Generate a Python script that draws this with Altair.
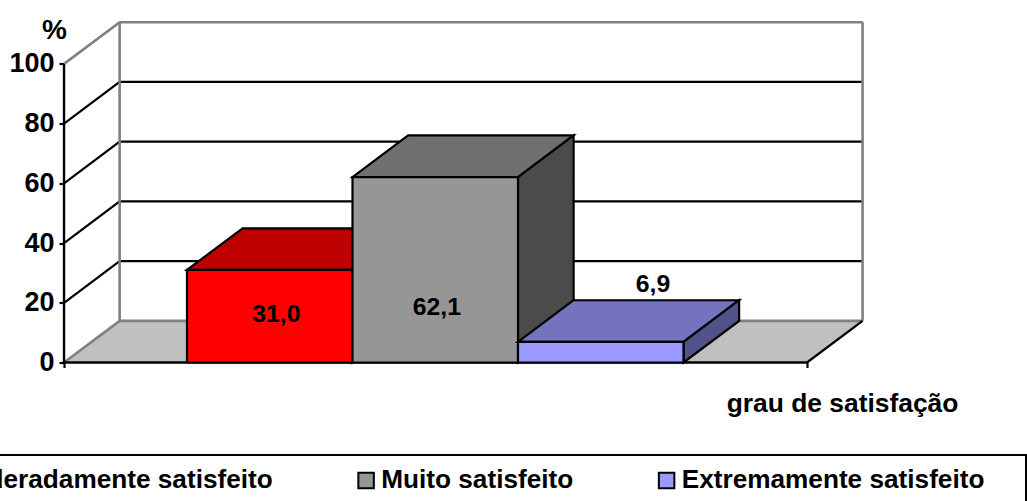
import altair as alt
import pandas as pd

# Survey results: share of respondents per satisfaction level
categories = ["Moderadamente satisfeito", "Muito satisfeito", "Extremamente satisfeito"]
percentages = [31.0, 62.1, 6.9]
y_ticks = [0, 20, 40, 60, 80, 100]

front_colors = ["#FF0000", "#969696", "#9999FF"]
top_colors = ["#BF0000", "#707070", "#7373BF"]
side_colors = ["#7F0000", "#4B4B4B", "#52528A"]

FONT = "Liberation Sans"
TICK_FONT_SIZE = 27
UNIT_FONT_SIZE = 28
X_TITLE_FONT_SIZE = 26.4
VALUE_FONT_SIZE = 24.8
LEGEND_FONT_SIZE = 26.2

# Oblique projection of the chart box, in scale units
DEPTH_X = 0.336
DEPTH_Y = 13.95
FLOOR_LEFT = -0.743
FLOOR_RIGHT = 3.746
X_SCALE = alt.Scale(domain=[-0.7432, 4.0906], nice=False, zero=False)
Y_SCALE = alt.Scale(domain=[0, 114.2], nice=False, zero=False)

# Placement of each value label relative to its bar
LABEL_SHIFT_X = [0.54, 0.51, 0.816]
LABEL_HEIGHT = [16.0, 18.1, 25.8]

X_AXIS = alt.Axis(
    values=[FLOOR_LEFT, FLOOR_RIGHT], labels=False, domain=False, grid=False,
    tickColor="black", tickWidth=2.2, tickSize=5,
    title="grau de satisfação", titleFont=FONT, titleFontSize=X_TITLE_FONT_SIZE,
    titleFontWeight="bold", titleColor="black",
    titleX=778, titleY=41, titleAlign="center", titleBaseline="middle",
)
Y_AXIS = alt.Axis(
    values=y_ticks, domain=False, grid=False,
    tickColor="black", tickWidth=2.2, tickSize=5, labelPadding=5,
    labelFont=FONT, labelFontSize=TICK_FONT_SIZE, labelFontWeight="bold", labelColor="black",
    title="%", titleFont=FONT, titleFontSize=UNIT_FONT_SIZE, titleFontWeight="bold",
    titleColor="black", titleAngle=0,
    titleX=-10, titleY=9, titleAlign="center", titleBaseline="middle",
)


def x_enc():
    return alt.X("x:Q", scale=X_SCALE, axis=X_AXIS)


def y_enc():
    return alt.Y("y:Q", scale=Y_SCALE, axis=Y_AXIS)


def polyline(points, color, width):
    df = pd.DataFrame(points, columns=["x", "y"])
    df["i"] = range(len(df))
    return alt.Chart(df).mark_line(
        color=color, strokeWidth=width
    ).encode(x=x_enc(), y=y_enc(), order="i:Q")


def parallelogram_top(x0, x1, v, color):
    df = pd.DataFrame({
        "y": [v, v + DEPTH_Y],
        "x": [x0, x0 + DEPTH_X],
        "x2": [x1, x1 + DEPTH_X],
    })
    return alt.Chart(df).mark_area(
        orient="horizontal", fill=color, stroke="black", strokeWidth=2.2
    ).encode(y=y_enc(), x=x_enc(), x2="x2:Q")


def parallelogram_side(x1, v, color):
    df = pd.DataFrame({
        "x": [x1, x1 + DEPTH_X],
        "y": [v, v + DEPTH_Y],
        "y2": [0, DEPTH_Y],
    })
    return alt.Chart(df).mark_area(
        orient="vertical", fill=color, stroke="black", strokeWidth=2.2
    ).encode(x=x_enc(), y=y_enc(), y2="y2:Q")


back_left = FLOOR_LEFT + DEPTH_X
back_right = FLOOR_RIGHT + DEPTH_X

# Floor of the box
floor_df = pd.DataFrame({
    "y": [0, DEPTH_Y],
    "x": [FLOOR_LEFT, back_left],
    "x2": [FLOOR_RIGHT, back_right],
})
floor = alt.Chart(floor_df).mark_area(orient="horizontal", fill="#C0C0C0").encode(
    y=y_enc(), x=x_enc(), x2="x2:Q"
)

layers = [floor]

# Gridlines run along the left wall and across the back wall
for v in y_ticks[1:-1]:
    layers.append(polyline(
        [(FLOOR_LEFT, v), (back_left, v + DEPTH_Y), (back_right, v + DEPTH_Y)], "black", 2.2
    ))
for v in (y_ticks[0], y_ticks[-1]):
    layers.append(polyline(
        [(FLOOR_LEFT, v), (back_left, v + DEPTH_Y), (back_right, v + DEPTH_Y)], "#808080", 2.6
    ))
layers.append(polyline([(back_left, DEPTH_Y), (back_left, 100 + DEPTH_Y)], "#808080", 2.6))
layers.append(polyline([(back_right, DEPTH_Y), (back_right, 100 + DEPTH_Y)], "#808080", 2.6))

# Front edges of the box
layers.append(polyline([(FLOOR_LEFT, 0), (FLOOR_LEFT, 100)], "black", 2.4))
layers.append(polyline([(FLOOR_LEFT, 0), (FLOOR_RIGHT, 0)], "black", 2.4))
layers.append(polyline([(FLOOR_RIGHT, 0), (back_right, DEPTH_Y)], "black", 2.2))

legend = alt.Legend(
    orient="none", legendX=-142.5, legendY=445.5, columns=3, title=None,
    symbolType="square", symbolSize=240, symbolStrokeColor="black", symbolStrokeWidth=2,
    labelFont=FONT, labelFontSize=LEGEND_FONT_SIZE, labelFontWeight="bold", labelColor="black",
    labelOffset=2, columnPadding=79.5, padding=0, labelLimit=500,
)

# Box drawn behind the legend entries
legend_box = alt.Chart(pd.DataFrame({"k": [0]})).mark_rect(
    fill="white", stroke="black", strokeWidth=2
).encode(
    x=alt.value(-120), x2=alt.value(962), y=alt.value(433.5), y2=alt.value(520)
)
layers.append(legend_box)

# Bars, painted left to right so nearer faces cover farther ones
for i, (name, value) in enumerate(zip(categories, percentages)):
    x0, x1 = float(i), float(i + 1)
    layers.append(parallelogram_top(x0, x1, value, top_colors[i]))
    layers.append(parallelogram_side(x1, value, side_colors[i]))
    front_df = pd.DataFrame({
        "categoria": [name], "x": [x0], "x2": [x1], "y": [value], "y2": [0]
    })
    layers.append(
        alt.Chart(front_df).mark_rect(stroke="black", strokeWidth=2.2).encode(
            x=x_enc(), x2="x2:Q", y=y_enc(), y2="y2:Q",
            color=alt.Color(
                "categoria:N",
                scale=alt.Scale(domain=categories, range=front_colors),
                legend=legend,
            ),
        )
    )

# Value labels with a decimal comma
labels_df = pd.DataFrame({
    "x": [i + s for i, s in enumerate(LABEL_SHIFT_X)],
    "y": LABEL_HEIGHT,
    "t": [f"{v:.1f}".replace(".", ",") for v in percentages],
})
layers.append(
    alt.Chart(labels_df).mark_text(
        font=FONT, fontSize=VALUE_FONT_SIZE, fontWeight="bold", color="black",
        align="center", baseline="middle",
    ).encode(x=x_enc(), y=y_enc(), text="t:N")
)

chart = alt.layer(*layers).properties(
    width=800, height=341,
    padding={"left": 64, "top": 21.5, "right": 163, "bottom": 138.5},
    autosize=alt.AutoSizeParams(type="none"),
    background="white",
).configure_view(stroke=None)

chart.save("out.html", embed_options={"renderer": "svg", "actions": False})
